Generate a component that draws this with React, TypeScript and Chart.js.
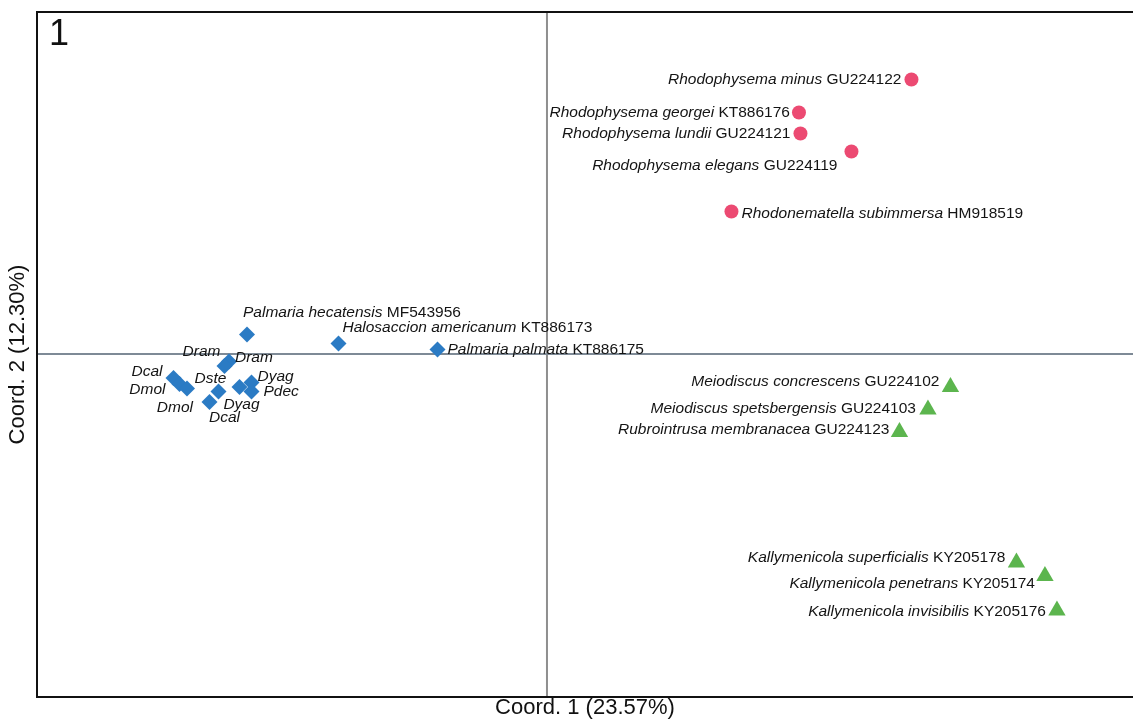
import React, { useEffect, useRef } from "react";
import { Chart, registerables } from "chart.js";

Chart.register(...registerables);

// ---- Data (PCoA coordinates) ----
const rhodoNames = ["Rhodophysema minus", "Rhodophysema georgei", "Rhodophysema lundii", "Rhodophysema elegans", "Rhodonematella subimmersa"];
const rhodoCodes = ["GU224122", "KT886176", "GU224121", "GU224119", "HM918519"];
const rhodoX = [0.243, 0.168, 0.169, 0.203, 0.123];
const rhodoY = [0.183, 0.161, 0.147, 0.135, 0.095];

const meioNames = ["Meiodiscus concrescens", "Meiodiscus spetsbergensis", "Rubrointrusa membranacea", "Kallymenicola superficialis", "Kallymenicola penetrans", "Kallymenicola invisibilis"];
const meioCodes = ["GU224102", "GU224103", "GU224123", "KY205178", "KY205174", "KY205176"];
const meioX = [0.269, 0.254, 0.235, 0.313, 0.332, 0.340];
const meioY = [-0.022, -0.037, -0.052, -0.139, -0.148, -0.171];

const palmNames = ["Palmaria hecatensis", "Halosaccion americanum", "Palmaria palmata", "Dram", "Dram", "Dcal", "Dmol", "Dmol", "Dste", "Dcal", "Dyag", "Dyag", "Pdec"];
const palmCodes = ["MF543956", "KT886173", "KT886175", "", "", "", "", "", "", "", "", "", ""];
const palmX = [-0.200, -0.139, -0.073, -0.212, -0.215, -0.249, -0.245, -0.240, -0.219, -0.225, -0.205, -0.197, -0.197];
const palmY = [0.013, 0.007, 0.003, -0.005, -0.008, -0.016, -0.020, -0.023, -0.025, -0.032, -0.022, -0.019, -0.025];

const xTitle = "Coord. 1 (23.57%)";
const yTitle = "Coord. 2 (12.30%)";
const panelLabel = "1";

// ---- Label placement (layout only): [align, dx, dy] relative to marker ----
const rhodoLabelPos: [string, number, number][] = [["right", -10, 0], ["right", -9, 0], ["right", -10, 0], ["right", -14, 14], ["left", 10, 2]];
const meioLabelPos: [string, number, number][] = [["right", -11, -5], ["right", -12, -1], ["right", -10, -2], ["right", -11, -5], ["right", -10, 8], ["right", -11, 1]];
const palmLabelPos: [string, number, number][] = [
  ["left", -4, -22], ["left", 4, -16], ["left", 10, 0],
  ["left", 6, -4], ["right", -4, -14], ["right", -11, -6], ["right", -14, 6], ["right", 6, 19],
  ["center", -8, -13], ["center", 15, 16], ["center", 2, 18], ["left", 6, -6], ["left", 12, 0],
];

const FONT = "'Liberation Sans', Arial, Helvetica, sans-serif";

const toPoints = (xs: number[], ys: number[]) => xs.map((x, i) => ({ x, y: ys[i] }));

const labelPlugin = {
  id: "pcoaLabels",
  beforeDatasetsDraw(chart: any) {
    const { ctx, chartArea, scales } = chart;
    const x0 = scales.x.getPixelForValue(0);
    const y0 = scales.y.getPixelForValue(0);
    ctx.save();
    ctx.lineWidth = 2;
    ctx.strokeStyle = "#8f8f8f";
    ctx.beginPath();
    ctx.moveTo(x0, chartArea.top);
    ctx.lineTo(x0, chartArea.bottom);
    ctx.stroke();
    ctx.strokeStyle = "#7e8a96";
    ctx.beginPath();
    ctx.moveTo(chartArea.left, y0);
    ctx.lineTo(chartArea.right, y0);
    ctx.stroke();
    // frame (left, top, bottom)
    ctx.strokeStyle = "#111";
    ctx.lineWidth = 2;
    ctx.beginPath();
    ctx.moveTo(chartArea.right + 5, chartArea.top);
    ctx.lineTo(chartArea.left, chartArea.top);
    ctx.lineTo(chartArea.left, chartArea.bottom);
    ctx.lineTo(chartArea.right + 5, chartArea.bottom);
    ctx.stroke();
    // panel label
    ctx.fillStyle = "#111";
    ctx.font = `36px ${FONT}`;
    ctx.textBaseline = "middle";
    ctx.textAlign = "left";
    ctx.fillText(panelLabel, chartArea.left + 12, chartArea.top + 23);
    ctx.restore();
  },
  afterDatasetsDraw(chart: any) {
    const { ctx } = chart;
    const groups = [
      { names: rhodoNames, codes: rhodoCodes, pos: rhodoLabelPos },
      { names: meioNames, codes: meioCodes, pos: meioLabelPos },
      { names: palmNames, codes: palmCodes, pos: palmLabelPos },
    ];
    ctx.save();
    ctx.fillStyle = "#141414";
    ctx.textBaseline = "middle";
    ctx.textAlign = "left";
    const italic = `italic 15.5px ${FONT}`;
    const normal = `15.5px ${FONT}`;
    groups.forEach((g, di) => {
      const meta = chart.getDatasetMeta(di);
      meta.data.forEach((el: any, i: number) => {
        const [align, dx, dy] = g.pos[i];
        const name = g.names[i];
        const code = g.codes[i] ? " " + g.codes[i] : "";
        ctx.font = italic;
        const w1 = ctx.measureText(name).width;
        ctx.font = normal;
        const w2 = code ? ctx.measureText(code).width : 0;
        const total = w1 + w2;
        let sx = el.x + dx;
        if (align === "right") sx -= total;
        else if (align === "center") sx -= total / 2;
        const sy = el.y + dy;
        ctx.font = italic;
        ctx.fillText(name, sx, sy);
        if (code) {
          ctx.font = normal;
          ctx.fillText(code, sx + w1, sy);
        }
      });
    });
    ctx.restore();
  },
};

export default function App() {
  const canvasRef = useRef<HTMLCanvasElement | null>(null);

  useEffect(() => {
    if (!canvasRef.current) return;
    const chart = new Chart(canvasRef.current, {
      type: "scatter",
      data: {
        datasets: [
          {
            label: "Rhodophysemataceae",
            data: toPoints(rhodoX, rhodoY),
            pointStyle: "circle",
            pointRadius: 7,
            backgroundColor: "#ec4a72",
            borderColor: "#ec4a72",
            borderWidth: 0,
          },
          {
            label: "Meiodiscaceae",
            data: toPoints(meioX, meioY),
            pointStyle: "triangle",
            pointRadius: 10,
            backgroundColor: "#5cb54e",
            borderColor: "#5cb54e",
            borderWidth: 0,
          },
          {
            label: "Palmariaceae",
            data: toPoints(palmX, palmY),
            pointStyle: "rectRot",
            pointRadius: 8,
            backgroundColor: "#2b7bc4",
            borderColor: "#2b7bc4",
            borderWidth: 0,
          },
        ],
      },
      options: {
        animation: false,
        responsive: true,
        maintainAspectRatio: false,
        layout: { autoPadding: false, padding: { left: 3, top: 12, right: 0, bottom: 0 } },
        plugins: {
          legend: { display: false },
          tooltip: { enabled: false },
        },
        scales: {
          x: {
            type: "linear",
            min: -0.34,
            max: 0.3907,
            grid: { display: false, drawTicks: false },
            border: { display: false },
            ticks: { display: false },
            title: {
              display: true,
              text: xTitle,
              color: "#111",
              font: { family: FONT, size: 22, lineHeight: 1 },
              padding: { top: 0, bottom: 0 },
            },
          },
          y: {
            type: "linear",
            min: -0.2287,
            max: 0.228,
            grid: { display: false, drawTicks: false },
            border: { display: false },
            ticks: { display: false },
            title: {
              display: true,
              text: yTitle,
              color: "#111",
              font: { family: FONT, size: 22, lineHeight: 1 },
              padding: { top: 4, bottom: 8 },
            },
          },
        },
      },
      plugins: [labelPlugin],
    });
    return () => chart.destroy();
  }, []);

  return (
    <div style={{ position: "fixed", left: 0, top: 0, width: 1133, height: 719, background: "#fff" }}>
      <canvas ref={canvasRef} />
    </div>
  );
}
